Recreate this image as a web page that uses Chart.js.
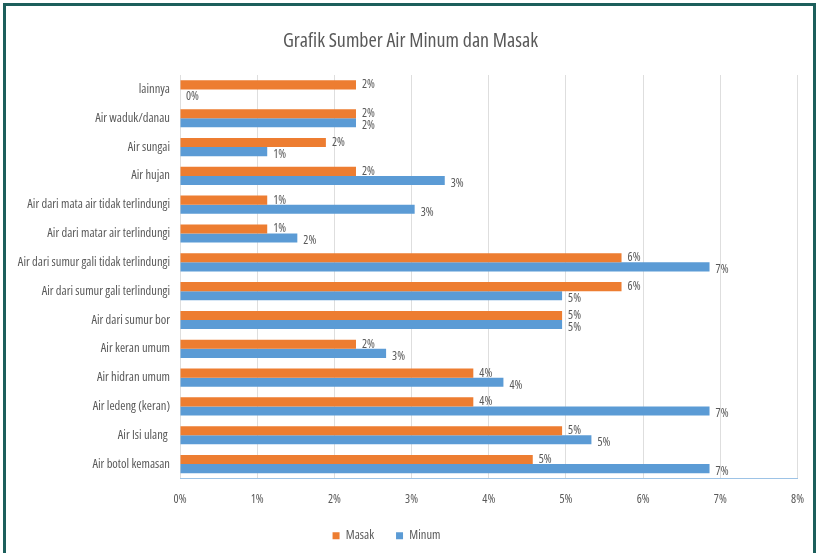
<!DOCTYPE html>
<html>
<head>
<meta charset="utf-8">
<script src="https://cdn.jsdelivr.net/npm/chart.js@4.4.1/dist/chart.umd.min.js"></script>
<style>
  html, body { margin: 0; padding: 0; background: #fff; }
  #wrap { position: relative; width: 818px; height: 553px; }
  #frame {
    position: absolute; left: 3px; top: 3px; right: 2px; bottom: -4px;
    border: 3px solid #1d5f5c; border-bottom: none; pointer-events: none;
  }
</style>
</head>
<body>
<div id="wrap">
  <canvas id="myChart" width="818" height="553"></canvas>
  <div id="frame"></div>
</div>
<script>
const categories = [
  'lainnya',
  'Air waduk/danau',
  'Air sungai',
  'Air hujan',
  'Air dari mata air tidak terlindungi',
  'Air dari matar air terlindungi',
  'Air dari sumur gali tidak terlindungi',
  'Air dari sumur gali terlindungi',
  'Air dari sumur bor',
  'Air keran umum',
  'Air hidran umum',
  'Air ledeng (keran)',
  'Air Isi ulang ',
  'Air botol kemasan'
];

// percent values
const masak = [2.28, 2.28, 1.89, 2.28, 1.13, 1.13, 5.72, 5.72, 4.95, 2.28, 3.80, 3.80, 4.95, 4.57];
const minum = [0, 2.28, 1.13, 3.43, 3.04, 1.52, 6.86, 4.95, 4.95, 2.67, 4.19, 6.86, 5.33, 6.86];

const xTicks = [0, 1, 2, 3, 4, 5, 6, 7, 8];

// "condensed" goes into the weight slot so Chart.js puts it in the font string
const fontFamily = '"Open Sans", sans-serif';
const textColor = '#595959';
const font = size => ({ family: fontFamily, size: size, style: 'normal', weight: 'condensed' });

// value labels at the end of every bar
const barLabels = {
  id: 'barLabels',
  afterDatasetsDraw(chart) {
    const ctx = chart.ctx;
    ctx.save();
    ctx.font = 'condensed 12px ' + fontFamily;
    ctx.fillStyle = textColor;
    ctx.textAlign = 'left';
    ctx.textBaseline = 'middle';
    chart.data.datasets.forEach((ds, i) => {
      const meta = chart.getDatasetMeta(i);
      meta.data.forEach((bar, j) => {
        const dy = i === 0 ? 0 : 3;
        ctx.fillText(Math.round(ds.data[j]) + '%', bar.x + 6, bar.y + dy);
      });
    });
    ctx.restore();
  }
};

// the legend sits a bit left of centre in the original
const shiftLegend = {
  id: 'shiftLegend',
  afterInit(chart) {
    const legend = chart.legend;
    const draw = legend.draw.bind(legend);
    legend.draw = function () {
      chart.ctx.save();
      chart.ctx.translate(-24, 0);
      draw();
      chart.ctx.restore();
    };
  }
};

const ctx = document.getElementById('myChart').getContext('2d');

new Chart(ctx, {
  type: 'bar',
  data: {
    labels: categories,
    datasets: [
      {
        label: 'Masak',
        data: masak,
        backgroundColor: '#ed7d31',
        barPercentage: 1,
        categoryPercentage: 0.63
      },
      {
        label: 'Minum',
        data: minum,
        backgroundColor: '#5b9bd5',
        barPercentage: 1,
        categoryPercentage: 0.63
      }
    ]
  },
  options: {
    indexAxis: 'y',
    responsive: false,
    animation: false,
    layout: { padding: { top: 10, right: 7, bottom: 1, left: 10 } },
    plugins: {
      title: {
        display: true,
        text: 'Grafik Sumber Air Minum dan Masak',
        color: textColor,
        font: font(20),
        padding: { top: 19, bottom: 22 }
      },
      legend: {
        position: 'bottom',
        labels: {
          color: textColor,
          font: font(12.5),
          boxWidth: 7,
          boxHeight: 7,
          padding: 22
        }
      },
      tooltip: { enabled: false }
    },
    scales: {
      x: {
        min: 0,
        max: 8,
        afterBuildTicks(axis) {
          axis.ticks = xTicks.map(v => ({ value: v }));
        },
        afterFit(axis) { axis.height = 29; },
        ticks: {
          color: textColor,
          font: font(12),
          padding: 14,
          callback: v => v + '%'
        },
        grid: { color: '#dedede', drawTicks: false },
        border: { color: '#9dc3e6' }
      },
      y: {
        afterFit(axis) { axis.width = 170; },
        ticks: {
          color: textColor,
          font: font(12.5),
          padding: 10
        },
        grid: { display: false, drawTicks: false },
        border: { display: false }
      }
    }
  },
  plugins: [barLabels, shiftLegend]
});
</script>
</body>
</html>
